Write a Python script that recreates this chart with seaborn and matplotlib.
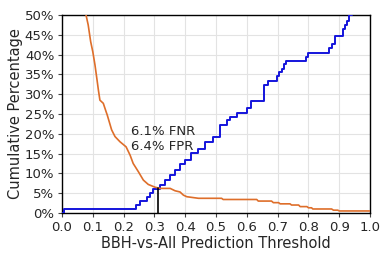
import matplotlib
matplotlib.use("Agg")
import matplotlib.pyplot as plt
import seaborn as sns
import pandas as pd
from matplotlib.ticker import FuncFormatter

# FNR (blue) step curve: threshold, cumulative %
fnr_x = [0.0, 0.007, 0.240, 0.253, 0.275, 0.286, 0.294, 0.318, 0.334, 0.350,
         0.367, 0.383, 0.400, 0.420, 0.443, 0.464, 0.490, 0.513, 0.535, 0.545,
         0.567, 0.600, 0.615, 0.656, 0.670, 0.697, 0.703, 0.713, 0.721, 0.727,
         0.792, 0.800, 0.868, 0.875, 0.886, 0.913, 0.919, 0.924, 0.930, 0.940]
fnr_y = [0.0, 1.0, 2.0, 3.0, 4.0, 5.0, 6.1, 7.1, 8.3, 9.6,
         10.9, 12.3, 13.4, 15.1, 16.1, 18.0, 19.3, 22.3, 23.5, 24.3,
         25.2, 26.4, 28.4, 32.3, 33.4, 34.6, 35.7, 36.5, 37.6, 38.5,
         39.5, 40.5, 41.6, 42.6, 44.7, 46.6, 47.5, 48.6, 50.0, 52.0]

# FPR (orange) curve, read point by point (including step corners in the tail)
fpr_x = [0.076, 0.078, 0.085, 0.089, 0.093, 0.100, 0.107, 0.113, 0.118, 0.123,
         0.134, 0.143, 0.147, 0.161, 0.172, 0.188, 0.208, 0.221, 0.231, 0.248,
         0.264, 0.280, 0.302, 0.318, 0.351, 0.367, 0.383, 0.394, 0.405, 0.443,
         0.518, 0.523, 0.632, 0.637, 0.680, 0.686, 0.703, 0.708, 0.740, 0.745,
         0.768, 0.773, 0.795, 0.800, 0.810, 0.814, 0.875, 0.881, 0.895, 0.900,
         1.0]
fpr_y = [51.0, 50.0, 47.5, 45.4, 43.3, 40.7, 37.4, 34.0, 31.1, 28.5,
         27.7, 25.6, 24.7, 21.0, 19.3, 18.0, 16.7, 14.6, 12.5, 10.4,
         8.3, 7.2, 6.5, 6.2, 6.2, 5.6, 5.3, 4.5, 4.1, 3.7,
         3.7, 3.4, 3.4, 3.0, 3.0, 2.6, 2.6, 2.3, 2.3, 2.0,
         2.0, 1.6, 1.6, 1.3, 1.3, 1.0, 1.0, 0.7, 0.7, 0.5,
         0.5]

threshold = 0.31
fnr_at = 6.1
fpr_at = 6.4
x_ticks = [0.0, 0.1, 0.2, 0.3, 0.4, 0.5, 0.6, 0.7, 0.8, 0.9, 1.0]
y_ticks = [0, 5, 10, 15, 20, 25, 30, 35, 40, 45, 50]

sns.set_style("whitegrid", {"axes.edgecolor": "black", "grid.color": "#e3e3e3",
                            "xtick.bottom": True, "ytick.left": True})
plt.rcParams['font.family'] = ['DejaVu Sans']

fig = plt.figure(figsize=(3.9, 2.6), dpi=100)
ax = fig.add_axes([0.159, 0.181, 0.79, 0.761])

df_fnr = pd.DataFrame({"x": fnr_x, "y": fnr_y})
df_fpr = pd.DataFrame({"x": fpr_x, "y": fpr_y})
sns.lineplot(data=df_fnr, x="x", y="y", ax=ax, color="#1414dc", lw=1.4,
             drawstyle="steps-post", zorder=3)
sns.lineplot(data=df_fpr, x="x", y="y", ax=ax, color="#de6e2a", lw=1.2,
             sort=False, estimator=None, zorder=3)
ax.plot([threshold, threshold], [0, fpr_at - 0.2], color="black", lw=1.2, zorder=4)

ax.text(0.224, 20.7, f"{fnr_at}% FNR", fontsize=9.5, va="center", ha="left")
ax.text(0.224, 16.7, f"{fpr_at}% FPR", fontsize=9.5, va="center", ha="left")

ax.set_xlim(0, 1)
ax.set_ylim(0, 50)
ax.set_xticks(x_ticks)
ax.set_yticks(y_ticks)
ax.yaxis.set_major_formatter(FuncFormatter(lambda v, p: f"{int(v)}%"))
ax.tick_params(axis="both", labelsize=9.5, length=3, width=0.8, pad=2.5, color="#444444")
ax.set_xlabel("BBH-vs-All Prediction Threshold", fontsize=10.5, labelpad=1.5)
ax.set_ylabel("Cumulative Percentage", fontsize=10.5, labelpad=1)
for s in ax.spines.values():
    s.set_linewidth(1.0)
    s.set_color("black")
ax.grid(True, lw=0.8)

fig.savefig("out.png", dpi=100)
